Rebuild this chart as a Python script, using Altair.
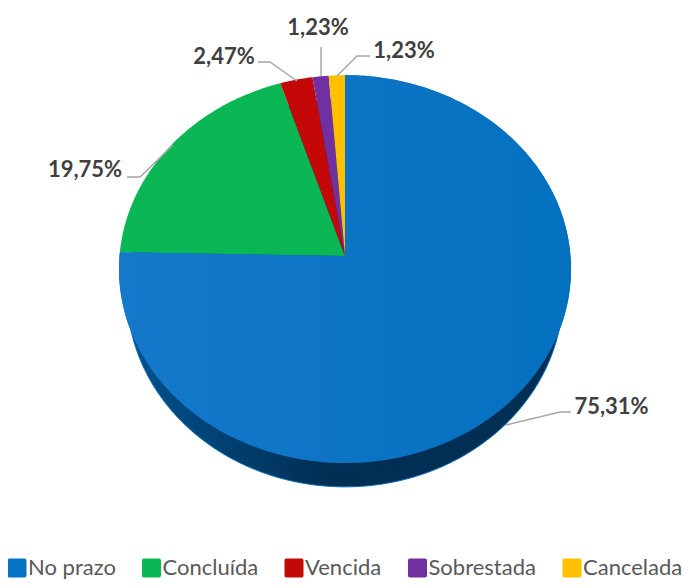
import math
import altair as alt
import pandas as pd

categories = ["No prazo", "Concluída", "Vencida", "Sobrestada", "Cancelada"]
percentages = [75.31, 19.75, 2.47, 1.23, 1.23]
colors = ["#0672C3", "#0BB655", "#C40808", "#7030A0", "#FFC000"]

# label centres and leader line paths, in page pixels
label_x = [611.5, 85, 224, 318, 404]
label_y = [407, 170, 57, 28, 51]
leader_x = [[506, 560, 571], [173, 140, 127], [297, 270, 258], [321, 321], [337, 357, 370]]
leader_y = [[425, 412, 412], [145, 177, 177], [81, 62, 62], [76, 47], [76, 56, 56]]

CX, CY, A, B, K = 345, 256, 193, 225.5, 0.067
SIDE_DY, SIDE_SX = 24, 0.965


def project(frac, dy=0, sx=1.0):
    a = 2 * math.pi * frac
    u, v = math.sin(a), math.cos(a)
    d = 1 + K * v
    return CX + sx * B * u / d, CY - A * v / d + dy


rows = []
start = 0.0
total = sum(percentages)
for cat, p in zip(categories, percentages):
    end = start + p / total
    n = max(3, int(p * 4))
    pts = [(CX, CY)] + [project(start + (end - start) * i / n) for i in range(n + 1)] + [(CX, CY)]
    for i, (x, y) in enumerate(pts):
        rows.append({"cat": cat, "i": i, "x": x, "y": y})
    start = end
slices = pd.DataFrame(rows)

side_pts = [project(i / 360, SIDE_DY, SIDE_SX) for i in range(361)]
side = pd.DataFrame({"i": range(361), "x": [p[0] for p in side_pts], "y": [p[1] for p in side_pts]})

labels = pd.DataFrame({
    "text": [f"{p:.2f}%".replace(".", ",") for p in percentages],
    "x": label_x,
    "y": label_y,
})

leaders = pd.DataFrame([
    {"k": k, "i": i, "x": x, "y": y}
    for k, (xs, ys) in enumerate(zip(leader_x, leader_y))
    for i, (x, y) in enumerate(zip(xs, ys))
])

X = alt.X("x:Q", scale=alt.Scale(domain=[8, 682], nice=False, zero=False), axis=None)
Y = alt.Y("y:Q", scale=alt.Scale(domain=[580, 8], nice=False, zero=False), axis=None)

ROUND = "M-0.8,-1H0.8Q1,-1 1,-0.8V0.8Q1,1 0.8,1H-0.8Q-1,1 -1,0.8V-0.8Q-1,-1 -0.8,-1Z"

side_gradient = alt.Gradient(
    gradient="linear", x1=0, x2=1, y1=0, y2=0,
    stops=[
        alt.GradientStop(color="#00528F", offset=0.0),
        alt.GradientStop(color="#002F55", offset=0.45),
        alt.GradientStop(color="#002F55", offset=1.0),
    ],
)
blue_gradient = alt.Gradient(
    gradient="linear", x1=0, x2=1, y1=0, y2=0,
    stops=[
        alt.GradientStop(color="#1578CB", offset=0.0),
        alt.GradientStop(color="#0470C0", offset=1.0),
    ],
)

side_layer = alt.Chart(side).mark_line(
    fill=side_gradient, stroke="#0A6FB8", strokeWidth=1
).encode(x=X, y=Y, order="i:Q")

slice_layer = alt.Chart(slices).mark_line(strokeWidth=0).encode(
    x=X, y=Y, order="i:Q",
    fill=alt.Fill(
        "cat:N",
        scale=alt.Scale(domain=categories, range=colors),
        sort=categories,
        legend=alt.Legend(
            title=None, orient="none", direction="horizontal", legendX=-2, legendY=549,
            symbolType=ROUND, symbolSize=361, symbolStrokeWidth=0, symbolOpacity=1,
            labelFont="Lato", labelFontSize=22, labelColor="#595959", labelOffset=0,
            columnPadding=24.5, columns=5, labelLimit=200,
        ),
    ),
)

blue_layer = alt.Chart(slices[slices["cat"] == categories[0]]).mark_line(
    fill=blue_gradient, strokeWidth=0
).encode(x=X, y=Y, order="i:Q")

leader_layer = alt.Chart(leaders).mark_line(color="#A6A6A6", strokeWidth=1.5).encode(
    x=X, y=Y, detail="k:N", order="i:Q"
)

text_layer = alt.Chart(labels).mark_text(
    font="Lato", fontSize=22, fontWeight="bold", color="#404040", align="center", baseline="middle"
).encode(x=X, y=Y, text="text:N")

chart = (side_layer + slice_layer + blue_layer + leader_layer + text_layer).properties(
    width=674, height=572, padding=0, autosize=alt.AutoSizeParams(type="none")
).configure_view(stroke=None)

chart.save("out.html", embed_options={"renderer": "svg", "actions": False})
